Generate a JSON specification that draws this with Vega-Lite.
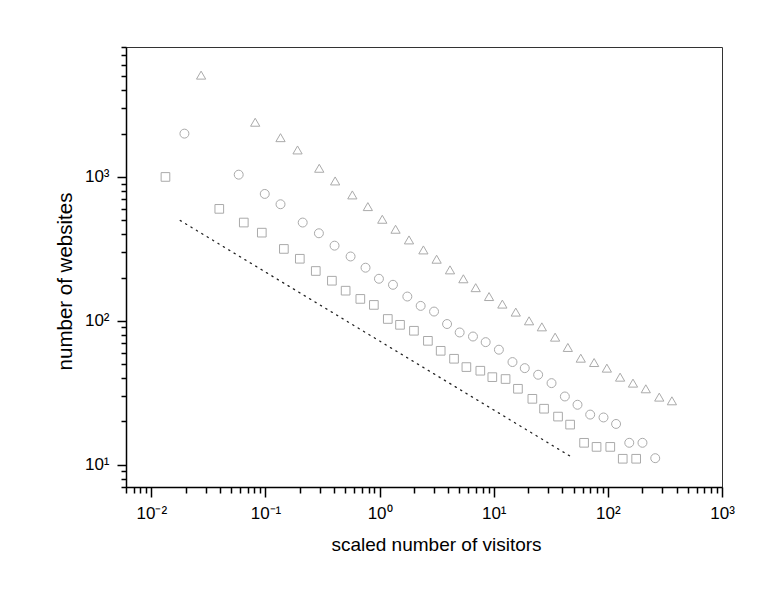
{
  "$schema": "https://vega.github.io/schema/vega-lite/v6.json",
  "autosize": {"type": "none"},
  "padding": {"left": 126, "top": 47, "right": 49, "bottom": 119},
  "width": 596,
  "height": 440,
  "background": "white",
  "config": {
    "view": {"stroke": "#333333", "strokeWidth": 1},
    "axis": {
      "grid": false,
      "domainColor": "black",
      "domainWidth": 1.5,
      "tickColor": "black",
      "tickWidth": 1.5,
      "labelFont": "Liberation Sans Narrow, Liberation Sans",
      "labelFontSize": 17,
      "labelColor": "black",
      "labelOverlap": false,
      "labelFlush": false,
      "titleFont": "Liberation Sans",
      "titleFontWeight": "normal",
      "titleColor": "black"
    }
  },
  "datasets": {
    "pts": [
      {"series": "squares", "x": 0.0133, "y": 1000},
      {"series": "squares", "x": 0.0394, "y": 600},
      {"series": "squares", "x": 0.0646, "y": 482},
      {"series": "squares", "x": 0.0929, "y": 410},
      {"series": "squares", "x": 0.145, "y": 316},
      {"series": "squares", "x": 0.2, "y": 270},
      {"series": "squares", "x": 0.276, "y": 222},
      {"series": "squares", "x": 0.382, "y": 190},
      {"series": "squares", "x": 0.504, "y": 162},
      {"series": "squares", "x": 0.678, "y": 142},
      {"series": "squares", "x": 0.891, "y": 129},
      {"series": "squares", "x": 1.18, "y": 103},
      {"series": "squares", "x": 1.51, "y": 93.8},
      {"series": "squares", "x": 2.0, "y": 85.3},
      {"series": "squares", "x": 2.65, "y": 72.6},
      {"series": "squares", "x": 3.43, "y": 61.9},
      {"series": "squares", "x": 4.49, "y": 54.5},
      {"series": "squares", "x": 5.76, "y": 47.7},
      {"series": "squares", "x": 7.63, "y": 45},
      {"series": "squares", "x": 9.72, "y": 40.6},
      {"series": "squares", "x": 12.7, "y": 39.4},
      {"series": "squares", "x": 16.3, "y": 33.7},
      {"series": "squares", "x": 21.8, "y": 28.7},
      {"series": "squares", "x": 27.6, "y": 24.5},
      {"series": "squares", "x": 36.6, "y": 21.6},
      {"series": "squares", "x": 46.7, "y": 19.0},
      {"series": "squares", "x": 61.9, "y": 14.2},
      {"series": "squares", "x": 79.6, "y": 13.3},
      {"series": "squares", "x": 105, "y": 13.3},
      {"series": "squares", "x": 135, "y": 11.0},
      {"series": "squares", "x": 177, "y": 11.0},
      {"series": "circles", "x": 0.0195, "y": 2000},
      {"series": "circles", "x": 0.0583, "y": 1037},
      {"series": "circles", "x": 0.0986, "y": 762},
      {"series": "circles", "x": 0.1355, "y": 646},
      {"series": "circles", "x": 0.212, "y": 482},
      {"series": "circles", "x": 0.294, "y": 406},
      {"series": "circles", "x": 0.403, "y": 333},
      {"series": "circles", "x": 0.557, "y": 280},
      {"series": "circles", "x": 0.753, "y": 234},
      {"series": "circles", "x": 0.987, "y": 196},
      {"series": "circles", "x": 1.31, "y": 178},
      {"series": "circles", "x": 1.75, "y": 147.5},
      {"series": "circles", "x": 2.29, "y": 127},
      {"series": "circles", "x": 3.0, "y": 116},
      {"series": "circles", "x": 3.9, "y": 95},
      {"series": "circles", "x": 5.03, "y": 83},
      {"series": "circles", "x": 6.58, "y": 77.8},
      {"series": "circles", "x": 8.5, "y": 71.1},
      {"series": "circles", "x": 11.1, "y": 63},
      {"series": "circles", "x": 14.6, "y": 51.7},
      {"series": "circles", "x": 18.7, "y": 46.9},
      {"series": "circles", "x": 24.5, "y": 42.2},
      {"series": "circles", "x": 32.1, "y": 36.9},
      {"series": "circles", "x": 42, "y": 29.8},
      {"series": "circles", "x": 54.2, "y": 26.1},
      {"series": "circles", "x": 70, "y": 22.3},
      {"series": "circles", "x": 91.6, "y": 21.3},
      {"series": "circles", "x": 118, "y": 19.2},
      {"series": "circles", "x": 154, "y": 14.2},
      {"series": "circles", "x": 201, "y": 14.2},
      {"series": "circles", "x": 260, "y": 11.1},
      {"series": "triangles", "x": 0.0273, "y": 5100},
      {"series": "triangles", "x": 0.0813, "y": 2400},
      {"series": "triangles", "x": 0.1355, "y": 1875},
      {"series": "triangles", "x": 0.191, "y": 1540},
      {"series": "triangles", "x": 0.296, "y": 1149},
      {"series": "triangles", "x": 0.408, "y": 938},
      {"series": "triangles", "x": 0.577, "y": 750},
      {"series": "triangles", "x": 0.789, "y": 622},
      {"series": "triangles", "x": 1.056, "y": 508},
      {"series": "triangles", "x": 1.38, "y": 433},
      {"series": "triangles", "x": 1.81, "y": 365},
      {"series": "triangles", "x": 2.42, "y": 311},
      {"series": "triangles", "x": 3.16, "y": 268},
      {"series": "triangles", "x": 4.14, "y": 226},
      {"series": "triangles", "x": 5.42, "y": 196},
      {"series": "triangles", "x": 6.95, "y": 170},
      {"series": "triangles", "x": 9.1, "y": 147.5},
      {"series": "triangles", "x": 11.9, "y": 130.7},
      {"series": "triangles", "x": 15.6, "y": 115},
      {"series": "triangles", "x": 20.4, "y": 100},
      {"series": "triangles", "x": 26.4, "y": 90.8},
      {"series": "triangles", "x": 34.5, "y": 77},
      {"series": "triangles", "x": 44.6, "y": 65.3},
      {"series": "triangles", "x": 57.9, "y": 55},
      {"series": "triangles", "x": 75.8, "y": 51.3},
      {"series": "triangles", "x": 98, "y": 46.9},
      {"series": "triangles", "x": 128, "y": 40.6},
      {"series": "triangles", "x": 166, "y": 36.9},
      {"series": "triangles", "x": 215, "y": 33.7},
      {"series": "triangles", "x": 282, "y": 29.5},
      {"series": "triangles", "x": 364, "y": 27.8}
    ],
    "fit": [
      {"x": 0.0179, "y": 498},
      {"x": 47.3, "y": 11.4}
    ]
  },
  "layer": [
    {
      "data": {"name": "fit"},
      "mark": {"type": "line", "color": "#222222", "strokeWidth": 1.3, "strokeDash": [1.3, 5], "strokeCap": "round"},
      "encoding": {
        "x": {"field": "x", "type": "quantitative", "scale": {"type": "log", "domain": [0.006, 1000], "nice": false}},
        "y": {"field": "y", "type": "quantitative", "scale": {"type": "log", "domain": [7, 8000], "nice": false}}
      }
    },
    {
      "data": {"name": "pts"},
      "mark": {"type": "point", "filled": false, "color": "#aaaaaa", "strokeWidth": 1, "opacity": 1},
      "encoding": {
        "x": {
          "field": "x", "type": "quantitative",
          "scale": {"type": "log", "domain": [0.006, 1000], "nice": false},
          "axis": {
            "title": "scaled number of visitors",
            "titleFontSize": 19,
            "titlePadding": 14,
            "titleX": 310,
            "labelPadding": 8,
            "values": [0.006,0.007,0.008,0.009,0.01,0.02,0.03,0.04,0.05,0.06,0.07,0.08,0.09,0.1,0.2,0.3,0.4,0.5,0.6,0.7,0.8,0.9,1,2,3,4,5,6,7,8,9,10,20,30,40,50,60,70,80,90,100,200,300,400,500,600,700,800,900,1000],
            "tickSize": {"condition": {"test": "abs(log(datum.value)/LN10 - round(log(datum.value)/LN10)) < 1e-6", "value": 10}, "value": 6},
            "labelExpr": "abs(log(datum.value)/LN10 - round(log(datum.value)/LN10)) < 1e-6 ? '10' + ['⁻²','⁻¹','⁰','¹','²','³'][round(log(datum.value)/LN10)+2] : ''"
          }
        },
        "y": {
          "field": "y", "type": "quantitative",
          "scale": {"type": "log", "domain": [7, 8000], "nice": false},
          "axis": {
            "title": "number of websites",
            "titleFontSize": 20.5,
            "titlePadding": 9,
            "titleY": 234,
            "labelPadding": 8,
            "values": [7,8,9,10,20,30,40,50,60,70,80,90,100,200,300,400,500,600,700,800,900,1000,2000,3000,4000,5000,6000,7000,8000],
            "tickSize": {"condition": {"test": "abs(log(datum.value)/LN10 - round(log(datum.value)/LN10)) < 1e-6", "value": 9}, "value": 5},
            "labelExpr": "abs(log(datum.value)/LN10 - round(log(datum.value)/LN10)) < 1e-6 ? '10' + ['⁻²','⁻¹','⁰','¹','²','³'][round(log(datum.value)/LN10)+2] : ''"
          }
        },
        "shape": {
          "field": "series", "type": "nominal",
          "scale": {"domain": ["squares", "circles", "triangles"], "range": ["square", "circle", "triangle-up"]},
          "legend": null
        },
        "size": {
          "field": "series", "type": "nominal",
          "scale": {"domain": ["squares", "circles", "triangles"], "range": [75, 85, 110]},
          "legend": null
        }
      }
    }
  ]
}
